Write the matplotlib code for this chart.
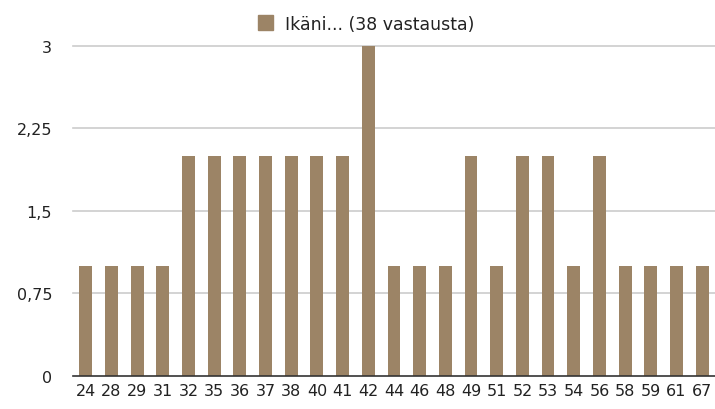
import matplotlib
matplotlib.use("Agg")
import matplotlib.pyplot as plt
from matplotlib.ticker import FixedLocator
from matplotlib.patches import Patch

categories = ["24", "28", "29", "31", "32", "35", "36", "37", "38", "40", "41", "42", "44",
              "46", "48", "49", "51", "52", "53", "54", "56", "58", "59", "61", "67"]
values = [1, 1, 1, 1, 2, 2, 2, 2, 2, 2, 2, 3, 1, 1, 1, 2, 1, 2, 2, 1, 2, 1, 1, 1, 1]
yticks = [0, 0.75, 1.5, 2.25, 3]
ytick_labels = ["0", "0,75", "1,5", "2,25", "3"]
series_name = "Ikäni... (38 vastausta)"

bar_color = "#9c8466"
plt.rcParams['font.family'] = ['DejaVu Sans']

fig = plt.figure(figsize=(7.15, 4.10), dpi=100)
ax = fig.add_axes([0.102, 0.0805, 0.898, 0.805])

x = list(range(len(categories)))
ax.bar(x, values, width=0.5, color=bar_color, zorder=3)
ax.set_xlim(-0.5, len(categories) - 0.5)
ax.set_ylim(0, 3)
ax.yaxis.set_major_locator(FixedLocator(yticks))
ax.set_yticklabels(ytick_labels)
ax.set_xticks(x)
ax.set_xticklabels(categories)
ax.tick_params(axis='both', length=0, labelsize=11.5, colors="#222222")
ax.tick_params(axis='y', pad=15)
ax.tick_params(axis='x', pad=5)
for y in yticks[1:]:
    ax.axhline(y, color="#cccccc", linewidth=1.2, zorder=1, clip_on=False)
for s in ["top", "right", "left"]:
    ax.spines[s].set_visible(False)
ax.spines["bottom"].set_color("#333333")
ax.spines["bottom"].set_linewidth(1.2)
ax.spines["bottom"].set_zorder(4)

leg = fig.legend(handles=[Patch(color=bar_color, label=series_name)],
                 loc="upper center", bbox_to_anchor=(0.512, 1.0), frameon=False,
                 fontsize=12.5, handlelength=0.9, handleheight=0.9, handletextpad=0.7)
for t in leg.get_texts():
    t.set_color("#222222")

fig.savefig("out.png", dpi=100)
